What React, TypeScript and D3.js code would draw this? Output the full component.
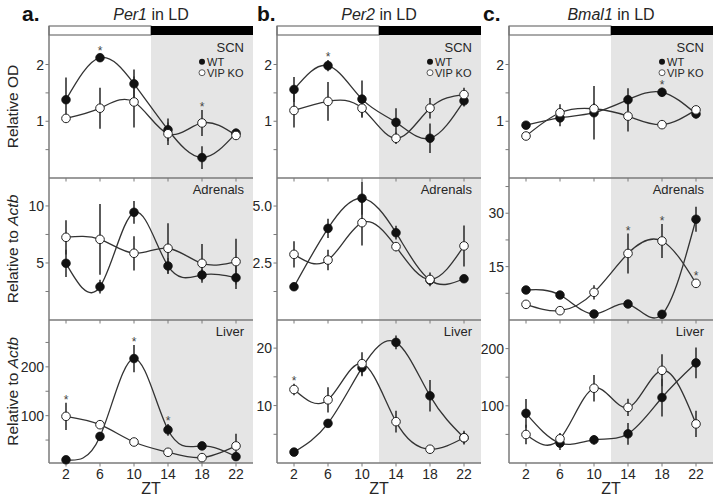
import React from 'react';
import * as d3 from 'd3';

// ---------- data ----------
const zt = [2, 6, 10, 14, 18, 22];
const genes = ['Per1', 'Per2', 'Bmal1'];
const letters = ['a.', 'b.', 'c.'];
const tissues = ['SCN', 'Adrenals', 'Liver'];

// Per1
const per1ScnWT = [1.38, 2.12, 1.66, 0.85, 0.36, 0.79];
const per1ScnWTErr = [0.39, 0.07, 0.25, 0.2, 0.2, 0.08];
const per1ScnKO = [1.05, 1.23, 1.34, 0.78, 0.97, 0.75];
const per1ScnKOErr = [0.03, 0.36, 0.45, 0.2, 0.23, 0.08];
const per1ScnSig: [number, string][] = [[6, 'wt'], [18, 'ko']];

const per1AdrWT = [4.97, 2.92, 9.44, 4.74, 3.95, 3.71];
const per1AdrWTErr = [1.2, 0.6, 1.0, 0.7, 0.5, 1.0];
const per1AdrKO = [7.25, 7.07, 5.85, 6.29, 4.97, 5.12];
const per1AdrKOErr = [1.5, 3.1, 1.5, 2.2, 1.7, 2.0];
const per1AdrSig: [number, string][] = [];

const per1LivWT = [9.6, 57.5, 217, 71, 38, 16];
const per1LivWTErr = [4, 8, 28, 12, 6, 5];
const per1LivKO = [98.6, 81.5, 46, 25, 14, 38];
const per1LivKOErr = [28, 3, 3, 3, 3, 25];
const per1LivSig: [number, string][] = [[2, 'ko'], [10, 'wt'], [14, 'wt']];

// Per2
const per2ScnWT = [1.56, 1.98, 1.39, 0.98, 0.7, 1.36];
const per2ScnWTErr = [0.22, 0.1, 0.33, 0.25, 0.26, 0.1];
const per2ScnKO = [1.19, 1.35, 1.23, 0.7, 1.23, 1.47];
const per2ScnKOErr = [0.3, 0.34, 0.15, 0.1, 0.18, 0.12];
const per2ScnSig: [number, string][] = [[6, 'wt']];

const per2AdrWT = [1.46, 4.02, 5.34, 3.83, 1.75, 1.81];
const per2AdrWTErr = [0.17, 0.42, 0.72, 0.3, 0.2, 0.05];
const per2AdrKO = [2.88, 2.63, 4.27, 3.22, 1.78, 3.25];
const per2AdrKOErr = [0.58, 0.45, 1.0, 0.2, 0.3, 0.9];
const per2AdrSig: [number, string][] = [];

const per2LivWT = [1.9, 6.9, 16.6, 21.0, 11.7, 4.4];
const per2LivWTErr = [0.3, 0.4, 1.5, 1.2, 2.75, 1.2];
const per2LivKO = [12.8, 11.0, 17.3, 7.2, 2.4, 4.4];
const per2LivKOErr = [1.0, 2.2, 2.0, 1.9, 0.4, 1.0];
const per2LivSig: [number, string][] = [[2, 'ko']];

// Bmal1
const bmalScnWT = [0.93, 1.06, 1.15, 1.38, 1.51, 1.13];
const bmalScnWTErr = [0.03, 0.15, 0.47, 0.2, 0.08, 0.08];
const bmalScnKO = [0.74, 1.15, 1.22, 1.09, 0.94, 1.2];
const bmalScnKOErr = [0.03, 0.15, 0.1, 0.27, 0.02, 0.05];
const bmalScnSig: [number, string][] = [[18, 'wt']];

const bmalAdrWT = [8.43, 7.02, 1.69, 4.49, 1.59, 28.3];
const bmalAdrWTErr = [0.5, 0.8, 0.3, 0.4, 0.3, 3.5];
const bmalAdrKO = [4.4, 2.62, 7.77, 18.7, 22.2, 10.3];
const bmalAdrKOErr = [0.3, 0.3, 2.0, 5.6, 4.8, 1.2];
const bmalAdrSig: [number, string][] = [[14, 'ko'], [18, 'ko'], [22, 'ko']];

const bmalLivWT = [86.8, 34.8, 40.5, 51, 114.5, 175];
const bmalLivWTErr = [25, 12, 8, 19, 33, 27];
const bmalLivKO = [49.8, 42.3, 130.7, 97.2, 162, 68.3];
const bmalLivKOErr = [17, 10, 23, 15, 28, 23];
const bmalLivSig: [number, string][] = [];

// axis domains, ticks, tick labels
const scnDomain = [0, 2.52];
const scnTicks = [0.5, 1, 1.5, 2];
const scnTickLabels = ['', '1', '', '2'];

const per1AdrDomain = [0, 12.45];
const per1AdrTicks = [2.5, 5, 7.5, 10];
const per1AdrTickLabels = ['', '5', '', '10'];
const per2AdrDomain = [0, 6.23];
const per2AdrTicks = [1.25, 2.5, 3.75, 5];
const per2AdrTickLabels = ['', '2.5', '', '5.0'];
const bmalAdrDomain = [0, 39.9];
const bmalAdrTicks = [7.5, 15, 22.5, 30, 37.5];
const bmalAdrTickLabels = ['', '15', '', '30', ''];

const per1LivDomain = [3, 296];
const per1LivTicks = [50, 100, 150, 200, 250];
const per1LivTickLabels = ['', '100', '', '200', ''];
const per2LivDomain = [0, 24.9];
const per2LivTicks = [5, 10, 15, 20];
const per2LivTickLabels = ['', '10', '', '20'];
const bmalLivDomain = [0, 250];
const bmalLivTicks = [50, 100, 150, 200];
const bmalLivTickLabels = ['', '100', '', '200'];

const panels = [
  [
    { wt: per1ScnWT, wtErr: per1ScnWTErr, ko: per1ScnKO, koErr: per1ScnKOErr, sig: per1ScnSig, domain: scnDomain, ticks: scnTicks, labels: scnTickLabels },
    { wt: per1AdrWT, wtErr: per1AdrWTErr, ko: per1AdrKO, koErr: per1AdrKOErr, sig: per1AdrSig, domain: per1AdrDomain, ticks: per1AdrTicks, labels: per1AdrTickLabels },
    { wt: per1LivWT, wtErr: per1LivWTErr, ko: per1LivKO, koErr: per1LivKOErr, sig: per1LivSig, domain: per1LivDomain, ticks: per1LivTicks, labels: per1LivTickLabels },
  ],
  [
    { wt: per2ScnWT, wtErr: per2ScnWTErr, ko: per2ScnKO, koErr: per2ScnKOErr, sig: per2ScnSig, domain: scnDomain, ticks: scnTicks, labels: scnTickLabels },
    { wt: per2AdrWT, wtErr: per2AdrWTErr, ko: per2AdrKO, koErr: per2AdrKOErr, sig: per2AdrSig, domain: per2AdrDomain, ticks: per2AdrTicks, labels: per2AdrTickLabels },
    { wt: per2LivWT, wtErr: per2LivWTErr, ko: per2LivKO, koErr: per2LivKOErr, sig: per2LivSig, domain: per2LivDomain, ticks: per2LivTicks, labels: per2LivTickLabels },
  ],
  [
    { wt: bmalScnWT, wtErr: bmalScnWTErr, ko: bmalScnKO, koErr: bmalScnKOErr, sig: bmalScnSig, domain: scnDomain, ticks: scnTicks, labels: scnTickLabels },
    { wt: bmalAdrWT, wtErr: bmalAdrWTErr, ko: bmalAdrKO, koErr: bmalAdrKOErr, sig: bmalAdrSig, domain: bmalAdrDomain, ticks: bmalAdrTicks, labels: bmalAdrTickLabels },
    { wt: bmalLivWT, wtErr: bmalLivWTErr, ko: bmalLivKO, koErr: bmalLivKOErr, sig: bmalLivSig, domain: bmalLivDomain, ticks: bmalLivTicks, labels: bmalLivTickLabels },
  ],
];

// ---------- layout ----------
const W = 723;
const H = 501;
const colLeft = [49, 277, 509];
const letterX = [22, 257, 483];
const colW = 204;
const rowTop = [35, 178, 320];
const rowBottom = [178, 320, 463];
const barTop = 26;
const FONT = 'Liberation Sans, Arial, Helvetica, sans-serif';
const AXIS = '#7a7a7a';
const INK = '#262626';

function Panel({ col, row }: { col: number; row: number }) {
  const p = panels[col][row];
  const left = colLeft[col];
  const x = d3.scaleLinear().domain([0, 24]).range([left, left + colW]);
  const y = d3.scaleLinear().domain(p.domain).range([rowBottom[row], rowTop[row]]);
  const line = d3
    .line<number>()
    .x((_, i) => x(zt[i]))
    .y((d) => y(d))
    .curve(d3.curveNatural);
  const right = left + colW;
  return (
    <g>
      {/* x ticks */}
      {zt.map((t) => (
        <line key={'xt' + t} x1={x(t)} x2={x(t)} y1={rowBottom[row]} y2={rowBottom[row] + 3.5} stroke={AXIS} strokeWidth={1} />
      ))}
      {/* y ticks */}
      {p.ticks.map((t, i) => (
        <g key={'yt' + t}>
          <line x1={left - 3.5} x2={left} y1={y(t)} y2={y(t)} stroke={AXIS} strokeWidth={1} />
          {p.labels[i] && (
            <text x={left - 5} y={y(t) + 5} textAnchor="end" fontSize={14} fill={INK} fontFamily={FONT}>
              {p.labels[i]}
            </text>
          )}
        </g>
      ))}
      {/* bottom line */}
      <line x1={left} x2={right} y1={rowBottom[row]} y2={rowBottom[row]} stroke={AXIS} strokeWidth={1.5} />
      {/* curves */}
      <path d={line(p.ko) || ''} fill="none" stroke="#333" strokeWidth={1.3} />
      <path d={line(p.wt) || ''} fill="none" stroke="#333" strokeWidth={1.3} />
      {/* error bars */}
      {zt.map((t, i) => (
        <g key={'eb' + t}>
          <line x1={x(t)} x2={x(t)} y1={y(p.wt[i] - p.wtErr[i])} y2={y(p.wt[i] + p.wtErr[i])} stroke="#333" strokeWidth={1.6} />
          <line x1={x(t)} x2={x(t)} y1={y(p.ko[i] - p.koErr[i])} y2={y(p.ko[i] + p.koErr[i])} stroke="#333" strokeWidth={1.6} />
        </g>
      ))}
      {/* points */}
      {zt.map((t, i) => (
        <circle key={'w' + t} cx={x(t)} cy={y(p.wt[i])} r={4.3} fill="#111" stroke="#111" strokeWidth={0.8} />
      ))}
      {zt.map((t, i) => (
        <circle key={'k' + t} cx={x(t)} cy={y(p.ko[i])} r={4.3} fill="#fff" stroke="#222" strokeWidth={1} />
      ))}
      {/* significance */}
      {p.sig.map(([t, s]) => {
        const i = zt.indexOf(t);
        const top = s === 'wt' ? p.wt[i] + p.wtErr[i] : p.ko[i] + p.koErr[i];
        return (
          <text key={'s' + t} x={x(t)} y={y(top) + 1} textAnchor="middle" fontSize={12} fill="#444" fontFamily={FONT}>
            *
          </text>
        );
      })}
      {/* tissue label */}
      <text x={right - 9} y={row === 0 ? 52 : rowTop[row] + 15.5} textAnchor="end" fontSize={13} fill={INK} fontFamily={FONT}>
        {tissues[row]}
      </text>
      {row === 0 && (
        <g>
          <circle cx={right - 51} cy={61.7} r={3} fill="#111" />
          <text x={right - 46} y={65.5} fontSize={11} fill={INK} fontFamily={FONT}>WT</text>
          <circle cx={right - 51} cy={72.7} r={3} fill="#fff" stroke="#333" strokeWidth={0.8} />
          <text x={right - 46} y={76.5} fontSize={11} fill={INK} fontFamily={FONT}>VIP KO</text>
        </g>
      )}
    </g>
  );
}

function Column({ col }: { col: number }) {
  const left = colLeft[col];
  const x = d3.scaleLinear().domain([0, 24]).range([left, left + colW]);
  return (
    <g>
      <rect x={x(12)} y={barTop} width={x(24) - x(12)} height={rowBottom[2] - barTop} fill="#e5e5e5" />
      <rect x={x(0)} y={barTop} width={x(12) - x(0)} height={rowTop[0] - barTop} fill="#fff" stroke="#555" strokeWidth={1} />
      <rect x={x(12)} y={barTop} width={x(24) - x(12)} height={rowTop[0] - barTop} fill="#000" />
      <line x1={left} x2={left} y1={barTop} y2={rowBottom[2]} stroke={AXIS} strokeWidth={1.5} />
      {[0, 1, 2].map((r) => (
        <Panel key={r} col={col} row={r} />
      ))}
      {zt.map((t) => (
        <text key={'xl' + t} x={x(t)} y={479} textAnchor="middle" fontSize={14} fill={INK} fontFamily={FONT}>
          {t}
        </text>
      ))}
      <text x={x(12)} y={494} textAnchor="middle" fontSize={16} fill={INK} fontFamily={FONT}>ZT</text>
      <text x={letterX[col]} y={21} fontSize={21} fontWeight="bold" fill="#111" fontFamily={FONT}>{letters[col]}</text>
      <text x={x(12)} y={20} textAnchor="middle" fontSize={16} fill={INK} fontFamily={FONT}>
        <tspan fontStyle="italic">{genes[col]}</tspan> in LD
      </text>
    </g>
  );
}

export default function App() {
  const yLabels = ['Relative OD', 'Relative to ', 'Relative to '];
  return (
    <svg width={W} height={H} style={{ position: 'absolute', left: 0, top: 0, background: '#fff' }}>
      <rect width={W} height={H} fill="#fff" />
      {[0, 1, 2].map((c) => (
        <Column key={c} col={c} />
      ))}
      {[0, 1, 2].map((r) => {
        const cy = (rowTop[r] + rowBottom[r]) / 2;
        return (
          <text key={'yl' + r} transform={`translate(18,${cy}) rotate(-90)`} textAnchor="middle" fontSize={15.5} fill={INK} fontFamily={FONT}>
            {yLabels[r]}
            {r > 0 && <tspan fontStyle="italic">Actb</tspan>}
          </text>
        );
      })}
    </svg>
  );
}
